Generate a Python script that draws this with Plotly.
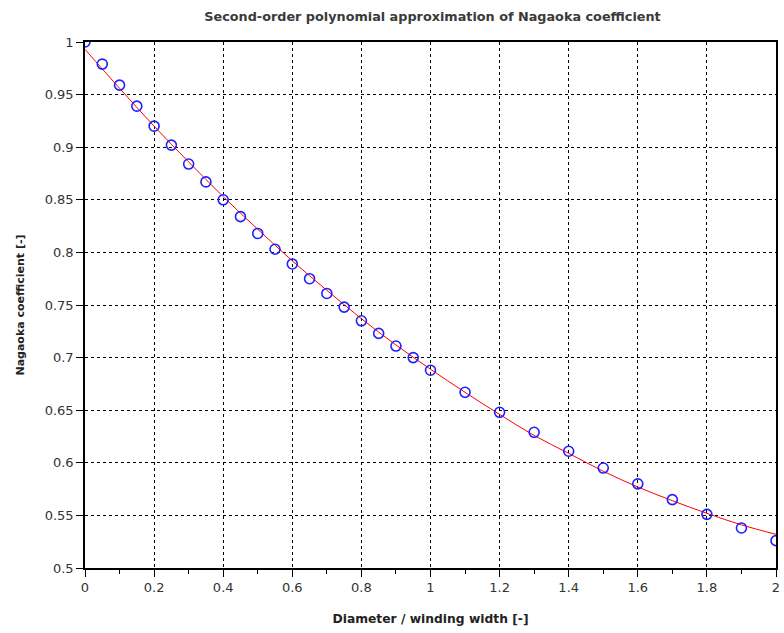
import plotly.graph_objects as go

# Measured Nagaoka coefficients
ratio = [0, 0.05, 0.1, 0.15, 0.2, 0.25, 0.3, 0.35, 0.4, 0.45, 0.5, 0.55, 0.6, 0.65, 0.7,
         0.75, 0.8, 0.85, 0.9, 0.95, 1.0, 1.1, 1.2, 1.3, 1.4, 1.5, 1.6, 1.7, 1.8, 1.9, 2.0]
nagaoka = [1.000, 0.979, 0.959, 0.939, 0.920, 0.902, 0.884, 0.867, 0.850, 0.834, 0.818,
           0.803, 0.789, 0.775, 0.761, 0.748, 0.735, 0.723, 0.711, 0.700, 0.688, 0.667,
           0.648, 0.629, 0.611, 0.595, 0.580, 0.565, 0.551, 0.538, 0.526]

# Second-order polynomial approximation
fit_x = [0, 0.1, 0.2, 0.3, 0.4, 0.5, 0.6, 0.7, 0.8, 0.9, 1.0,
         1.1, 1.2, 1.3, 1.4, 1.5, 1.6, 1.7, 1.8, 1.9, 2.0]
fit_y = [0.993, 0.956, 0.920, 0.886, 0.853, 0.822, 0.792, 0.764, 0.737, 0.712, 0.689,
         0.667, 0.646, 0.626, 0.609, 0.592, 0.577, 0.564, 0.552, 0.541, 0.532]

x_ticks = [0, 0.2, 0.4, 0.6, 0.8, 1, 1.2, 1.4, 1.6, 1.8, 2]
y_ticks = [0.5, 0.55, 0.6, 0.65, 0.7, 0.75, 0.8, 0.85, 0.9, 0.95, 1]

fig = go.Figure()
fig.add_trace(go.Scatter(x=fit_x, y=fit_y, mode="lines",
                         line=dict(color="#ff0000", width=1, shape="spline"),
                         showlegend=False))
fig.add_trace(go.Scatter(x=ratio, y=nagaoka, mode="markers",
                         marker=dict(symbol="circle-open", size=10, color="#2020ff",
                                     line=dict(width=1.6, color="#2020ff")),
                         showlegend=False))

font_family = "DejaVu Sans, Liberation Sans, Arial, sans-serif"
fig.update_layout(
    width=784, height=633,
    margin=dict(l=85, r=4, t=42, b=65),
    paper_bgcolor="white", plot_bgcolor="white",
    title=dict(text="<b>Second-order polynomial approximation of Nagaoka coefficient</b>",
               x=432.5 / 784, xanchor="center",
               y=1 - 17 / 633, yanchor="middle",
               font=dict(family=font_family, size=12.8, color="#3a3a3a")),
    font=dict(family=font_family, color="#222222"),
)
fig.update_xaxes(
    range=[0, 2], tickvals=x_ticks, ticktext=[f"{v:g}" for v in x_ticks],
    showline=True, linecolor="black", linewidth=1.5, mirror=True,
    showgrid=True, gridcolor="black", griddash="dot", gridwidth=1,
    ticks="outside", ticklen=7, tickcolor="black", tickwidth=1,
    minor=dict(dtick=0.1, ticks="outside", ticklen=4, tickcolor="black", showgrid=False),
    zeroline=False,
    tickfont=dict(size=13, color="#333333"),
    title=dict(text="<b>Diameter / winding width [-]</b>", font=dict(size=12.3, color="#222222"), standoff=20),
)
fig.update_yaxes(
    range=[0.5, 1], tickvals=y_ticks, ticktext=[f"{v:g}" for v in y_ticks],
    showline=True, linecolor="black", linewidth=1.5, mirror=True,
    showgrid=True, gridcolor="black", griddash="dot", gridwidth=1,
    ticks="outside", ticklen=7, tickcolor="black", tickwidth=1,
    zeroline=False,
    tickfont=dict(size=13, color="#333333"),
    title=dict(text="<b>Nagaoka coefficient [-]</b>", font=dict(size=11, color="#222222"), standoff=18),
)

fig.write_html("out.html", config={"displayModeBar": False},
               post_script="document.body.style.margin='0';document.body.style.overflow='hidden';")
